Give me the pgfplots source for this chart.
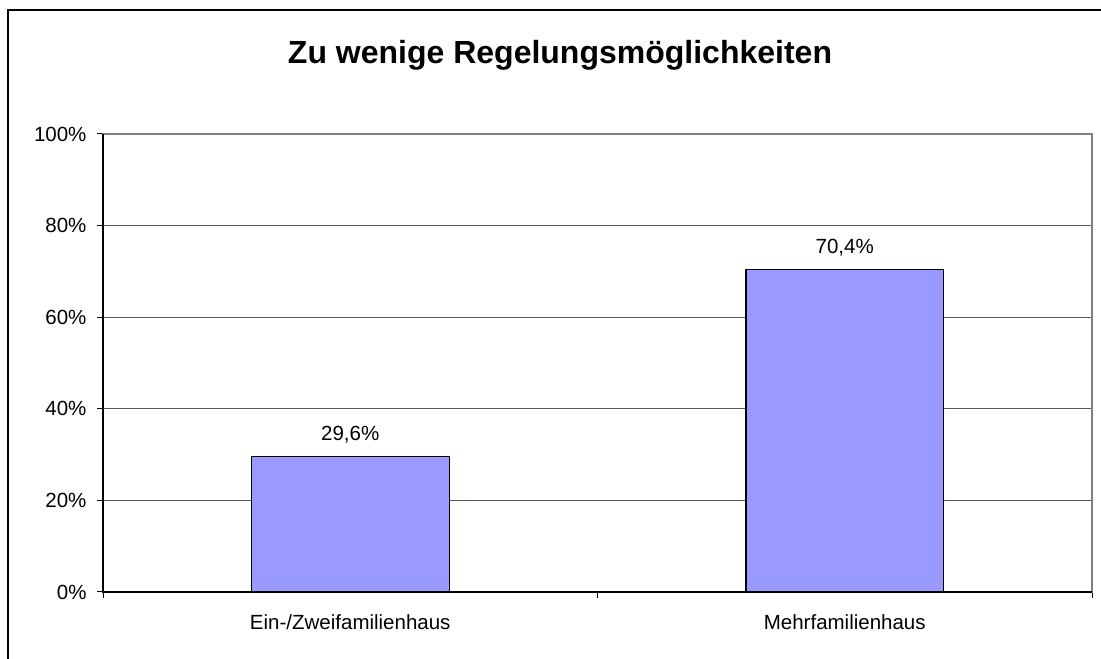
\documentclass[border=0pt]{standalone}
\usepackage{pgfplots}
\pgfplotsset{compat=1.18}
\usepackage{fontspec}
\setmainfont{Liberation Sans}
\definecolor{barfill}{HTML}{9999FF}
\begin{document}
\begin{tikzpicture}[x=1bp,y=1bp]
\useasboundingbox (0,0) rectangle (1101,659);
\begin{scope}
\clip (0,0) rectangle (1101,659);
\draw[line width=1.5bp] (8,-20) -- (8,649) -- (1120,649);
\end{scope}
\node[font=\fontsize{32bp}{38bp}\selectfont\bfseries, anchor=base, inner sep=0pt] at (560,595) {Zu wenige Regelungsmöglichkeiten};
\begin{axis}[at={(103bp,67bp)}, anchor=south west, width=989bp, height=458bp, scale only axis,
 ymin=0, ymax=100, xmin=-0.5, xmax=1.5,
 ytick={0,20,40,60,80,100}, yticklabels={0\%,20\%,40\%,60\%,80\%,100\%},
 xtick={0,1}, xticklabels={Ein-/Zweifamilienhaus, Mehrfamilienhaus},
 minor xtick={-0.5,0.5,1.5},
 xtick pos=left, ytick pos=left,
 tick align=outside, major tick length=6bp, minor tick length=6bp,
 major x tick style={draw=none},
 minor x tick style={draw=black, line width=1bp},
 major y tick style={draw=black, line width=1bp},
 ymajorgrids, major grid style={draw=black!65, line width=1bp},
 axis line style={draw=black!50, line width=1.2bp},
 ticklabel style={font=\fontsize{20.5bp}{24bp}\selectfont},
 yticklabel style={xshift=-7bp},
 xticklabel style={yshift=-13bp},
 ybar, bar width=0.4,
 nodes near coords={\pgfmathprintnumber[fixed,fixed zerofill,precision=1,use comma,assume math mode=true]{\pgfplotspointmeta}\%},
 nodes near coords style={font=\fontsize{20.5bp}{24bp}\selectfont, anchor=south, yshift=9bp},
 clip=false,
]
\addplot[fill=barfill, draw=black, line width=1.3bp] coordinates {(0,29.6) (1,70.4)};
\draw[black, line width=1.2bp] (rel axis cs:0,1) -- (rel axis cs:0,0) -- (rel axis cs:1,0);
\end{axis}
\end{tikzpicture}
\end{document}
